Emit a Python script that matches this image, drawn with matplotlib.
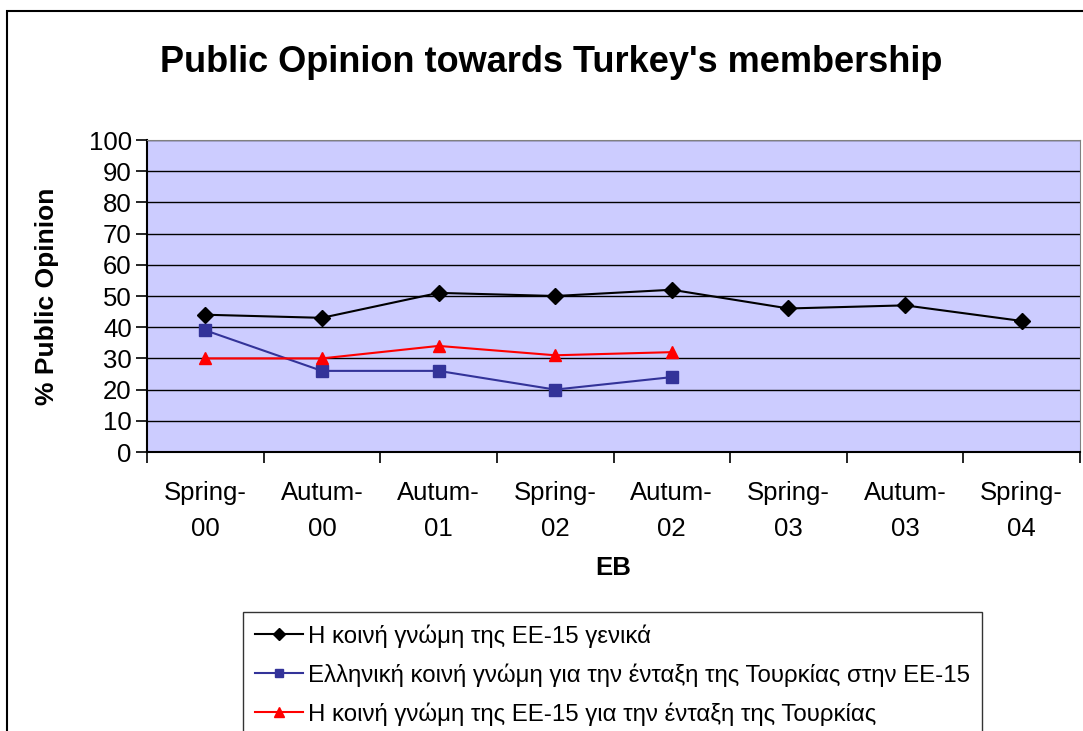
import matplotlib.pyplot as plt
from matplotlib.patches import Rectangle

surveys = ["Spring-\n00", "Autum-\n00", "Autum-\n01", "Spring-\n02",
           "Autum-\n02", "Spring-\n03", "Autum-\n03", "Spring-\n04"]

eu15_general = [44, 43, 51, 50, 52, 46, 47, 42]
greek_opinion = [39, 26, 26, 20, 24]
eu15_turkey = [30, 30, 34, 31, 32]

labels = ["Η κοινή γνώμη της ΕΕ-15 γενικά",
          "Ελληνική κοινή γνώμη για την ένταξη της Τουρκίας στην ΕΕ-15",
          "Η κοινή γνώμη της ΕΕ-15 για την ένταξη της Τουρκίας"]

plt.rcParams['font.family'] = ['Liberation Sans', 'DejaVu Sans']

fig = plt.figure(figsize=(10.83, 7.31), dpi=100)
ax = fig.add_axes([147 / 1083, 1 - 452 / 731, (1080 - 147) / 1083, (452 - 140) / 731])

# outer chart frame
fig.patches.append(Rectangle((7 / 1083, -0.1), 1.2, 1.1 - 11 / 731, transform=fig.transFigure,
                             fill=False, edgecolor="black", linewidth=1.5))

ax.set_facecolor("#CCCCFF")
x = list(range(len(surveys)))
ax.plot(x, eu15_general, color="black", marker="D", markersize=8, linewidth=1.5, label=labels[0])
ax.plot(x[:len(greek_opinion)], greek_opinion, color="#333399", marker="s", markersize=8,
        linewidth=1.5, label=labels[1])
ax.plot(x[:len(eu15_turkey)], eu15_turkey, color="red", marker="^", markersize=9,
        linewidth=1.5, label=labels[2])

ax.set_xlim(-0.5, len(surveys) - 0.5)
ax.set_ylim(0, 100)
ax.set_yticks(range(0, 101, 10))
ax.yaxis.grid(True, color="black", linewidth=1)
ax.set_axisbelow(True)

ax.set_xticks([i + 0.5 for i in range(-1, len(surveys))], minor=False)
ax.set_xticklabels([])
ax.set_xticks(x, minor=True)
ax.set_xticklabels(surveys, minor=True, fontsize=18.5, linespacing=1.6)
ax.tick_params(axis="x", which="minor", length=0, pad=21)
ax.tick_params(axis="x", which="major", length=8, width=1.2, direction="out")
ax.tick_params(axis="y", length=8, width=1.2, labelsize=18.5, pad=3)

for s in ["top", "right"]:
    ax.spines[s].set_color("#808080")
for s in ["left", "bottom"]:
    ax.spines[s].set_color("black")
    ax.spines[s].set_linewidth(1.5)

ax.set_xlabel("EB", fontsize=18.5, fontweight="bold", labelpad=11)
ax.set_ylabel("% Public Opinion", fontsize=19, fontweight="bold", labelpad=21)
fig.suptitle("Public Opinion towards Turkey's membership", fontsize=26, fontweight="bold",
             x=0.509, y=0.938)

leg = fig.legend(loc="upper left", bbox_to_anchor=(243 / 1083, 1 - 612 / 731), fontsize=17.3,
                 frameon=True, fancybox=False, edgecolor="black", handlelength=2.0,
                 borderpad=0.5, labelspacing=0.65, handletextpad=0.2, markerscale=0.8,
                 borderaxespad=0)
leg.get_frame().set_linewidth(1)

fig.savefig("out.png", dpi=100)
